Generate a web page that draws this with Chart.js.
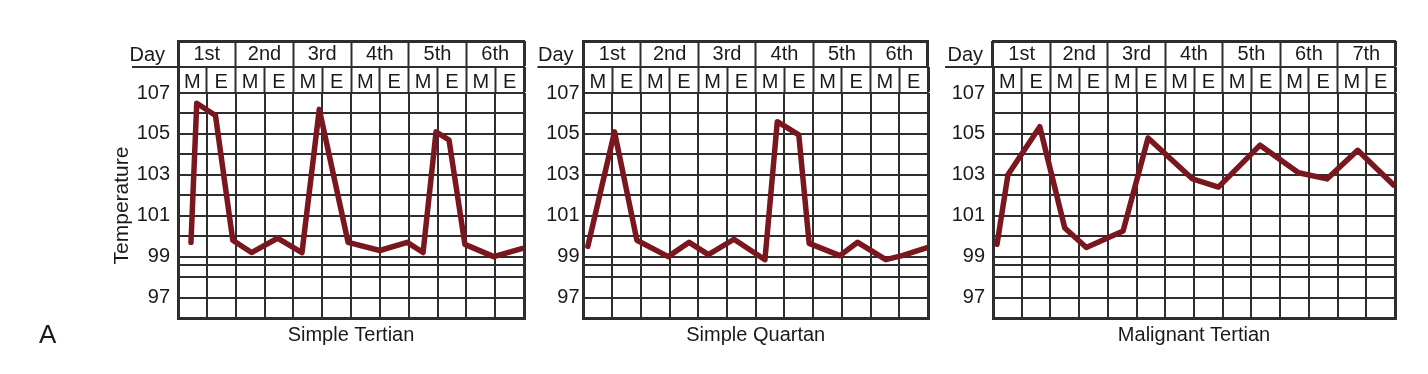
<!DOCTYPE html>
<html>
<head>
<meta charset="utf-8">
<script src="https://cdn.jsdelivr.net/npm/chart.js@4"></script>
<style>
  body { margin: 0; width: 1428px; height: 374px; background: #fff; position: relative; overflow: hidden; }
  canvas { position: absolute; top: 0; }
  #tag { position: absolute; left: 39px; top: 319px; font: 26px 'Liberation Sans', Arial, sans-serif; color: #1a1a1a; }
</style>
</head>
<body>
<canvas id="tertian" width="540" height="374" style="left:0px"></canvas>
<canvas id="quartan" width="410" height="374" style="left:530px"></canvas>
<canvas id="malignant" width="470" height="374" style="left:940px"></canvas>
<div id="tag">A</div>
<script>
// readings: x is in half-day columns (M/E), y in degrees F
const days6 = ['1st', '2nd', '3rd', '4th', '5th', '6th']
const days7 = ['1st', '2nd', '3rd', '4th', '5th', '6th', '7th']
const tempTicks = [96, 97, 98, 98.6, 99, 100, 101, 102, 103, 104, 105, 106, 107]

const tertianX = [0.45, 0.65, 1.3, 1.9, 2.55, 3.45, 4.3, 4.9, 5.9, 7.0, 7.95, 8.5, 8.95, 9.4, 9.95, 10.95, 11.95]
const tertianY = [99.7, 106.5, 105.9, 99.8, 99.2, 99.9, 99.2, 106.2, 99.7, 99.3, 99.7, 99.2, 105.1, 104.7, 99.6, 99.0, 99.4]

const quartanX = [0.15, 1.08, 1.86, 2.95, 3.68, 4.35, 5.24, 6.32, 6.75, 7.5, 7.86, 8.93, 9.55, 10.53, 11.1, 12]
const quartanY = [99.5, 105.1, 99.8, 99.0, 99.7, 99.1, 99.85, 98.85, 105.6, 104.95, 99.65, 99.05, 99.7, 98.85, 99.05, 99.45]

const malignantX = [0.14, 0.52, 1.63, 2.5, 3.25, 4.53, 5.4, 6.95, 7.85, 9.3, 10.64, 11.63, 12.7, 13.95]
const malignantY = [99.6, 103.0, 105.35, 100.4, 99.45, 100.25, 104.8, 102.8, 102.4, 104.45, 103.1, 102.8, 104.2, 102.5]

const ink = '#1a1a1a'
const gridInk = '#2e2e2e'
const lineRed = '#7a161e'
const fontFamily = "'Liberation Sans', Arial, sans-serif"

Chart.defaults.font.family = fontFamily
Chart.defaults.font.size = 20
Chart.defaults.color = ink

// "Day" label left of the header, with its underline
const dayLabel = {
    id: 'dayLabel',
    afterDraw(chart, args, opts) {
        const s = chart.scales.xDay
        const ctx = chart.ctx
        ctx.save()
        ctx.strokeStyle = gridInk
        ctx.lineWidth = 2
        ctx.beginPath()
        ctx.moveTo(s.left - opts.line, s.bottom)
        ctx.lineTo(s.left, s.bottom)
        ctx.stroke()
        ctx.font = '20px ' + fontFamily
        ctx.fillStyle = ink
        ctx.textAlign = 'right'
        ctx.textBaseline = 'middle'
        ctx.fillText('Day', s.left - opts.gap, (s.top + s.bottom) / 2 + 1)
        ctx.restore()
    }
}

const edgeWidth = n => c => (c.index === undefined || c.index === 0 || c.index === n) ? 3 : 2

generateChart = (id, days, xs, ys, name, o) => {
    const cols = days.length * 2
    const halves = days.flatMap(() => ['M', 'E'])
    return new Chart(document.getElementById(id), {
        type: 'line',
        data: {
            datasets: [{
                data: xs.map((x, i) => ({x: x, y: ys[i]})),
                borderColor: lineRed,
                borderWidth: 5.5,
                borderJoinStyle: 'round',
                borderCapStyle: 'round',
                pointRadius: 0,
                tension: 0
            }]
        },
        plugins: [dayLabel],
        options: {
            responsive: false,
            animation: false,
            devicePixelRatio: 1,
            layout: {padding: {left: o.padLeft, right: o.padRight, top: 41, bottom: 27}},
            plugins: {
                legend: {display: false},
                tooltip: {enabled: false},
                dayLabel: {gap: o.dayGap, line: o.dayLine}
            },
            scales: {
                x: {
                    type: 'linear', position: 'bottom', min: 0, max: cols,
                    ticks: {stepSize: 1, display: false},
                    grid: {color: gridInk, drawTicks: false,
                        lineWidth: c => (c.tick && (c.tick.value === 0 || c.tick.value === cols)) ? 3 : 2},
                    border: {display: true, width: 3, color: gridInk},
                    title: {display: true, text: name, color: ink, font: {size: 20}, padding: {top: 0, bottom: 0}},
                    afterFit: s => { s.height = 29 }
                },
                y: {
                    type: 'linear', position: 'left', min: 96, max: 107,
                    afterBuildTicks: s => { s.ticks = tempTicks.map(v => ({value: v})) },
                    ticks: {
                        autoSkip: false, padding: o.tickPad, color: ink,
                        callback: v => (Number.isInteger(v) && v % 2 === 1) ? String(v) : ''
                    },
                    grid: {color: gridInk, drawTicks: false,
                        lineWidth: c => (c.tick && c.tick.value === 96) ? 3 : 2},
                    border: {display: true, width: 3, color: gridInk},
                    title: {display: o.yTitle, text: 'Temperature', color: ink, font: {size: 21}, padding: {top: 0, bottom: 0}},
                    afterFit: s => { s.width = o.yWidth }
                },
                xME: {
                    axis: 'x', type: 'category', position: 'top', weight: 1,
                    labels: halves, offset: true,
                    ticks: {autoSkip: false, maxRotation: 0, padding: -27, color: ink},
                    grid: {offset: true, drawOnChartArea: false, tickLength: 26,
                        tickColor: gridInk, tickWidth: edgeWidth(cols)},
                    border: {display: true, width: 2, color: gridInk},
                    afterFit: s => { s.height = 26 }
                },
                xDay: {
                    axis: 'x', type: 'category', position: 'top', weight: 2,
                    labels: days, offset: true,
                    ticks: {autoSkip: false, maxRotation: 0, padding: -25, color: ink},
                    grid: {offset: true, drawOnChartArea: false, tickLength: 26,
                        tickColor: gridInk, tickWidth: edgeWidth(days.length)},
                    border: {display: true, width: 2, color: gridInk},
                    afterFit: s => { s.height = 26 }
                },
                xTop: {
                    axis: 'x', type: 'linear', position: 'top', weight: 3, min: 0, max: cols,
                    ticks: {display: false},
                    grid: {display: false, drawTicks: false},
                    border: {display: true, width: 3, color: gridInk},
                    afterFit: s => { s.height = 0 }
                }
            }
        }
    })
}

generateChart('tertian', days6, tertianX, tertianY, 'Simple Tertian',
    {padLeft: 110, padRight: 16, yWidth: 68, tickPad: 8, yTitle: true, dayGap: 13, dayLine: 46})
generateChart('quartan', days6, quartanX, quartanY, 'Simple Quartan',
    {padLeft: 3.5, padRight: 12, yWidth: 50, tickPad: 4, yTitle: false, dayGap: 10, dayLine: 46})
generateChart('malignant', days7, malignantX, malignantY, 'Malignant Tertian',
    {padLeft: 8, padRight: 15, yWidth: 45, tickPad: 8, yTitle: false, dayGap: 10, dayLine: 48})
</script>
</body>
</html>
